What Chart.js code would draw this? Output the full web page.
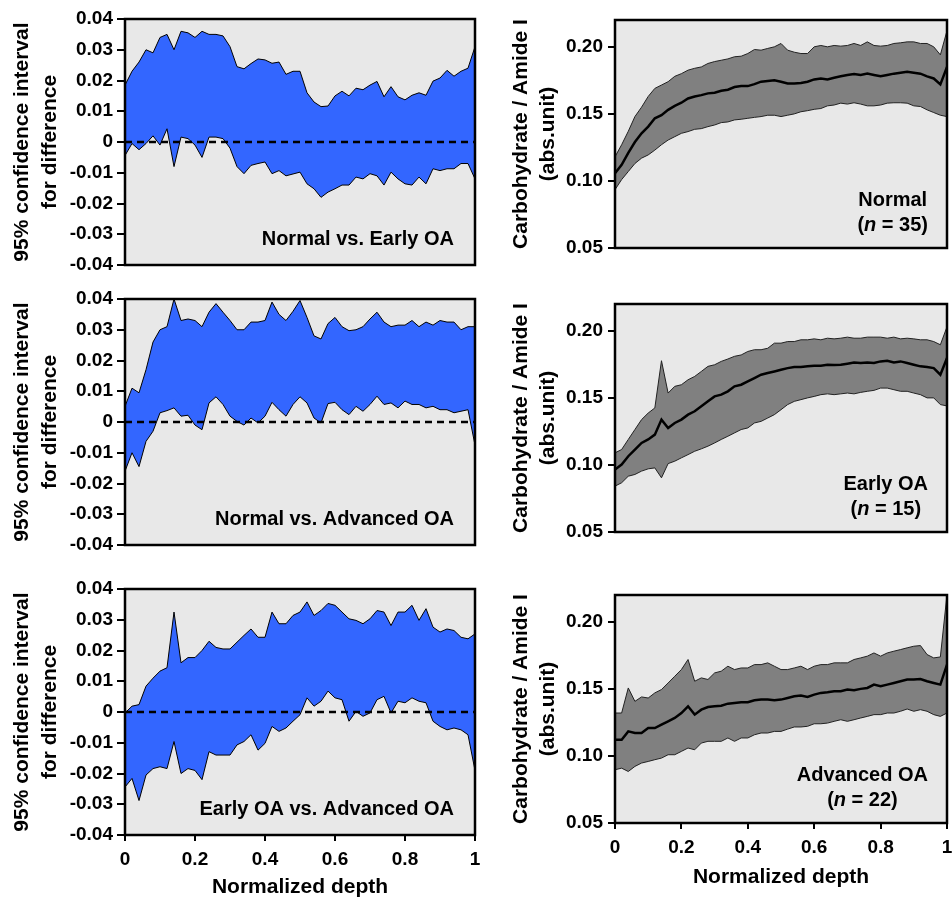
<!DOCTYPE html>
<html>
<head>
<meta charset="utf-8">
<script src="https://cdn.jsdelivr.net/npm/chart.js@4.4.1/dist/chart.umd.min.js"></script>
<style>
  html, body { margin: 0; padding: 0; background: #fff; }
  body { width: 952px; height: 898px; position: relative; overflow: hidden; }
  canvas { position: absolute; }
</style>
</head>
<body>
<canvas id="l1" width="480" height="280" style="left:0;top:0"></canvas>
<canvas id="l2" width="480" height="290" style="left:0;top:280px"></canvas>
<canvas id="l3" width="480" height="328" style="left:0;top:570px"></canvas>
<canvas id="r1" width="472" height="280" style="left:480px;top:0"></canvas>
<canvas id="r2" width="472" height="290" style="left:480px;top:280px"></canvas>
<canvas id="r3" width="472" height="328" style="left:480px;top:570px"></canvas>
<script>
// normalized depth, shared by every series
const depth = [0, 0.02, 0.04, 0.06, 0.08, 0.1, 0.12, 0.14, 0.16, 0.18, 0.2,
  0.22, 0.24, 0.26, 0.28, 0.3, 0.32, 0.34, 0.36, 0.38, 0.4,
  0.42, 0.44, 0.46, 0.48, 0.5, 0.52, 0.54, 0.56, 0.58, 0.6,
  0.62, 0.64, 0.66, 0.68, 0.7, 0.72, 0.74, 0.76, 0.78, 0.8,
  0.82, 0.84, 0.86, 0.88, 0.9, 0.92, 0.94, 0.96, 0.98, 1];

const depthTicks = [0, 0.2, 0.4, 0.6, 0.8, 1];
const diffTicks = [-0.04, -0.03, -0.02, -0.01, 0, 0.01, 0.02, 0.03, 0.04];
const ratioTicks = [0.05, 0.1, 0.15, 0.2];
const zeroX = [0, 1];
const zeroY = [0, 0];

// 95% CI for difference: Normal vs. Early OA
const nveUpper = [0.0185, 0.023, 0.026, 0.030, 0.029, 0.034, 0.035, 0.030, 0.036, 0.0355, 0.034,
  0.036, 0.035, 0.035, 0.0345, 0.031, 0.0245, 0.0238, 0.0255, 0.027, 0.0267,
  0.0256, 0.026, 0.022, 0.023, 0.023, 0.016, 0.013, 0.0115, 0.0117, 0.015,
  0.0165, 0.015, 0.0175, 0.017, 0.0185, 0.0197, 0.0147, 0.018, 0.0147, 0.0137,
  0.0152, 0.016, 0.0152, 0.0198, 0.0208, 0.0233, 0.0214, 0.023, 0.024, 0.031];
const nveLower = [-0.0044, -0.0005, -0.0025, -0.0005, 0.002, -0.001, 0.0043, -0.008, 0.0016, 0.0011, -0.001,
  -0.005, 0.0016, 0.0016, 0.0011, -0.002, -0.008, -0.0103, -0.0076, -0.007, -0.0065,
  -0.0103, -0.0093, -0.011, -0.0104, -0.0098, -0.0136, -0.0152, -0.018, -0.0163, -0.0152,
  -0.014, -0.014, -0.0114, -0.012, -0.0103, -0.011, -0.014, -0.0098, -0.012, -0.0136,
  -0.014, -0.0114, -0.0136, -0.0087, -0.0093, -0.0087, -0.0087, -0.007, -0.007, -0.012];

// Normal vs. Advanced OA
const nvaUpper = [0.0051, 0.011, 0.0095, 0.017, 0.026, 0.030, 0.031, 0.040, 0.033, 0.0335, 0.033,
  0.031, 0.0357, 0.0385, 0.0357, 0.033, 0.030, 0.030, 0.0325, 0.0325, 0.033,
  0.039, 0.035, 0.033, 0.036, 0.0395, 0.034, 0.028, 0.027, 0.032, 0.034,
  0.031, 0.0297, 0.030, 0.031, 0.0335, 0.0357, 0.0325, 0.031, 0.0315, 0.0315,
  0.033, 0.031, 0.0325, 0.0315, 0.033, 0.0325, 0.0325, 0.030, 0.031, 0.031];
const nvaLower = [-0.016, -0.010, -0.0145, -0.0063, -0.003, 0.003, 0.0037, 0.0046, 0.0019, 0.0022, -0.001,
  -0.0025, 0.0062, 0.0082, 0.0057, 0.0019, 0.0002, -0.001, 0.0013, -0.0003, 0.0019,
  0.0064, 0.004, 0.0019, 0.0057, 0.0082, 0.0062, 0.0013, -0.0003, 0.006, 0.0064,
  0.004, 0.0024, 0.0051, 0.0035, 0.0057, 0.0084, 0.0057, 0.0062, 0.0046, 0.0068,
  0.0057, 0.0057, 0.0046, 0.0051, 0.004, 0.004, 0.003, 0.0035, 0.004, -0.0075];

// Early OA vs. Advanced OA
const evaUpper = [-0.0003, 0.0019, 0.0024, 0.0084, 0.011, 0.0133, 0.0144, 0.0325, 0.016, 0.0177, 0.0177,
  0.020, 0.023, 0.021, 0.0205, 0.0205, 0.0227, 0.0249, 0.027, 0.0243, 0.0243,
  0.0325, 0.0287, 0.0287, 0.0314, 0.0325, 0.0358, 0.0314, 0.033, 0.0353, 0.0347,
  0.0325, 0.0303, 0.0298, 0.0287, 0.0303, 0.033, 0.0325, 0.0281, 0.0325, 0.0325,
  0.0347, 0.0298, 0.0336, 0.0276, 0.026, 0.027, 0.0265, 0.0243, 0.0238, 0.0254];
const evaLower = [-0.0244, -0.0216, -0.0288, -0.0205, -0.0184, -0.0178, -0.0184, -0.0096, -0.020, -0.0184, -0.019,
  -0.022, -0.0129, -0.014, -0.014, -0.014, -0.0107, -0.0096, -0.0074, -0.0124, -0.0102,
  -0.0047, -0.0063, -0.0052, -0.003, -0.0009, 0.0046, 0.0019, 0.0035, 0.0068, 0.0046,
  0.004, -0.003, 0.0002, -0.0014, -0.0003, 0.004, 0.0051, -0.0003, 0.0035, 0.003,
  0.0046, 0.0035, 0.003, -0.003, -0.0047, -0.0058, -0.0052, -0.0058, -0.0074, -0.019];

// Carbohydrate / Amide I: Normal (n = 35)
const normUpper = [0.118, 0.127, 0.137, 0.148, 0.155, 0.163, 0.169, 0.1715, 0.174, 0.178, 0.180,
  0.1826, 0.184, 0.185, 0.1876, 0.189, 0.190, 0.191, 0.1926, 0.193, 0.195,
  0.198, 0.1975, 0.1988, 0.200, 0.2025, 0.1975, 0.196, 0.195, 0.195, 0.200,
  0.201, 0.200, 0.201, 0.2005, 0.201, 0.2025, 0.201, 0.2037, 0.201, 0.2005,
  0.201, 0.2025, 0.203, 0.2037, 0.2037, 0.2025, 0.2025, 0.200, 0.194, 0.212];
const normMean = [0.1057, 0.112, 0.121, 0.129, 0.1355, 0.1405, 0.1467, 0.149, 0.153, 0.156, 0.1583,
  0.1615, 0.163, 0.164, 0.1653, 0.1658, 0.1673, 0.168, 0.170, 0.1707, 0.1707,
  0.1722, 0.174, 0.1745, 0.175, 0.174, 0.1727, 0.1727, 0.173, 0.174, 0.1757,
  0.1764, 0.1757, 0.177, 0.178, 0.179, 0.1797, 0.179, 0.180, 0.179, 0.178,
  0.179, 0.180, 0.1807, 0.1814, 0.1807, 0.180, 0.178, 0.1764, 0.172, 0.185];
const normLower = [0.0935, 0.101, 0.107, 0.113, 0.117, 0.1194, 0.123, 0.127, 0.1305, 0.133, 0.1355,
  0.1368, 0.1385, 0.139, 0.1405, 0.1417, 0.1435, 0.144, 0.1455, 0.146, 0.1467,
  0.1474, 0.148, 0.149, 0.149, 0.148, 0.149, 0.150, 0.1516, 0.1524, 0.1534,
  0.154, 0.156, 0.1566, 0.158, 0.1573, 0.1583, 0.1573, 0.156, 0.156, 0.1566,
  0.158, 0.1583, 0.1583, 0.158, 0.156, 0.1555, 0.153, 0.151, 0.149, 0.148];

// Early OA (n = 15)
const earlyUpper = [0.109, 0.1115, 0.119, 0.1264, 0.1338, 0.1387, 0.1425, 0.1777, 0.1536, 0.1586, 0.1598,
  0.1635, 0.166, 0.1697, 0.1735, 0.1747, 0.1772, 0.179, 0.181, 0.182, 0.1846,
  0.1859, 0.1859, 0.187, 0.1908, 0.1908, 0.192, 0.192, 0.1933, 0.1933, 0.194,
  0.1933, 0.1945, 0.194, 0.1945, 0.1953, 0.1945, 0.1945, 0.1953, 0.1953, 0.1953,
  0.1945, 0.1953, 0.194, 0.1945, 0.194, 0.1933, 0.1933, 0.192, 0.1896, 0.203];
const earlyMean = [0.0966, 0.1003, 0.1065, 0.1115, 0.1164, 0.119, 0.1226, 0.1338, 0.1276, 0.1313, 0.1338,
  0.1375, 0.14, 0.1437, 0.1474, 0.1511, 0.1524, 0.1549, 0.1586, 0.1598, 0.1623,
  0.1648, 0.1673, 0.1685, 0.1697, 0.171, 0.1722, 0.173, 0.173, 0.1735, 0.174,
  0.174, 0.1747, 0.1745, 0.1747, 0.1755, 0.1764, 0.176, 0.1764, 0.176, 0.1772,
  0.1777, 0.1764, 0.1772, 0.176, 0.1747, 0.1735, 0.173, 0.1722, 0.1673, 0.1797];
const earlyLower = [0.0842, 0.0867, 0.0916, 0.0929, 0.0954, 0.0971, 0.0978, 0.0904, 0.101, 0.1028, 0.1053,
  0.1077, 0.1102, 0.112, 0.114, 0.1164, 0.119, 0.1214, 0.1239, 0.1264, 0.1276,
  0.1313, 0.1325, 0.135, 0.1375, 0.1412, 0.145, 0.1474, 0.1487, 0.15, 0.1511,
  0.1524, 0.153, 0.1524, 0.153, 0.1536, 0.153, 0.1541, 0.1549, 0.1556, 0.1573,
  0.1573, 0.1561, 0.1549, 0.1549, 0.1536, 0.1524, 0.15, 0.15, 0.145, 0.144];

// Advanced OA (n = 22)
const advUpper = [0.132, 0.132, 0.1507, 0.1407, 0.144, 0.1432, 0.147, 0.1495, 0.1544, 0.1594, 0.1644,
  0.1719, 0.1557, 0.1582, 0.157, 0.1619, 0.1632, 0.1669, 0.1644, 0.1656, 0.1656,
  0.1681, 0.1681, 0.1694, 0.1669, 0.1644, 0.1644, 0.1656, 0.1669, 0.1644, 0.1669,
  0.1681, 0.1681, 0.1694, 0.1694, 0.1694, 0.1719, 0.1731, 0.1744, 0.1768, 0.1744,
  0.1768, 0.1781, 0.1793, 0.1806, 0.1818, 0.1823, 0.1756, 0.1731, 0.1738, 0.2204];
const advMean = [0.1121, 0.1121, 0.1183, 0.1171, 0.1171, 0.1208, 0.1208, 0.1233, 0.1258, 0.1283, 0.132,
  0.137, 0.1308, 0.1345, 0.1365, 0.137, 0.1375, 0.139, 0.1395, 0.14, 0.14,
  0.1415, 0.142, 0.142, 0.1415, 0.142, 0.1432, 0.1445, 0.145, 0.144, 0.1457,
  0.147, 0.1475, 0.1482, 0.1482, 0.1495, 0.149, 0.15, 0.1507, 0.1532, 0.152,
  0.1532, 0.1544, 0.1557, 0.157, 0.157, 0.1574, 0.1557, 0.1544, 0.1532, 0.1681];
const advLower = [0.0897, 0.0909, 0.0884, 0.0922, 0.0947, 0.0959, 0.0972, 0.0984, 0.1009, 0.1009, 0.1034,
  0.1059, 0.1046, 0.1096, 0.1109, 0.1109, 0.1109, 0.1134, 0.1109, 0.1134, 0.1134,
  0.1158, 0.1171, 0.1171, 0.1183, 0.1183, 0.12, 0.1216, 0.1216, 0.1221, 0.124,
  0.124, 0.1245, 0.1258, 0.127, 0.1258, 0.127, 0.1283, 0.1295, 0.1308, 0.1308,
  0.132, 0.132, 0.1333, 0.135, 0.1333, 0.1345, 0.1333, 0.1308, 0.1295, 0.132];

const FONT = "'Liberation Sans', Arial, Helvetica, sans-serif";
const tickFont = { family: FONT, size: 19, weight: 'bold' };
const BLUE = '#3366ff';
const GREY = '#808080';
const PLOT_BG = '#e8e8e8';

const pts = (xs, ys) => xs.map((x, i) => ({ x: x, y: ys[i] }));

// light grey plot box with a black frame
const framePlugin = {
    id: 'frame',
    beforeDraw(chart) {
        const { ctx, chartArea: a } = chart;
        ctx.save();
        ctx.fillStyle = PLOT_BG;
        ctx.fillRect(a.left, a.top, a.width, a.height);
        ctx.restore();
    },
    afterDatasetsDraw(chart) {
        const { ctx, chartArea: a } = chart;
        ctx.save();
        ctx.strokeStyle = '#000';
        ctx.lineWidth = 2.5;
        ctx.strokeRect(a.left, a.top, a.width, a.height);
        ctx.restore();
    }
};

function xScale(show, height, titlePad) {
    return {
        type: 'linear', min: 0, max: 1, display: show,
        afterBuildTicks: s => { s.ticks = depthTicks.map(v => ({ value: v })); },
        afterFit: s => {
            if (show) s.height = height;
            s.paddingLeft = 0;
            s.paddingRight = 0;
        },
        grid: { drawOnChartArea: false, tickLength: 6, color: '#000', lineWidth: 2 },
        border: { display: false },
        ticks: { font: tickFont, color: '#000', padding: 7, maxRotation: 0, autoSkip: false,
            callback: v => String(v) },
        title: { display: true, text: 'Normalized depth', color: '#000',
            font: { family: FONT, size: 21, weight: 'bold', lineHeight: 1 },
            padding: { top: 0, bottom: titlePad } }
    };
}

function yScale(min, max, ticks, fmt, width, tickLen, pad, title, lineH, titlePad) {
    return {
        type: 'linear', min: min, max: max,
        afterBuildTicks: s => { s.ticks = ticks.map(v => ({ value: v })); },
        afterFit: s => {
            s.width = width;
            s.paddingTop = 0;
            s.paddingBottom = 0;
        },
        grid: { drawOnChartArea: false, tickLength: tickLen, color: '#000', lineWidth: 2 },
        border: { display: false },
        ticks: { font: tickFont, color: '#000', padding: pad, autoSkip: false, callback: fmt },
        title: { display: true, text: title, color: '#000',
            font: { family: FONT, size: 21, weight: 'bold', lineHeight: lineH },
            padding: { top: titlePad, bottom: 0 } }
    };
}

function ciPanel(id, upper, lower, label, padding, showX, xHeight) {
    const labelPlugin = {
        id: 'ciLabel',
        afterDraw(chart) {
            const { ctx, chartArea: a } = chart;
            ctx.save();
            ctx.font = 'bold 20px ' + FONT;
            ctx.fillStyle = '#000';
            ctx.textAlign = 'right';
            ctx.textBaseline = 'middle';
            ctx.fillText(label, a.right - 21, a.bottom - 26);
            ctx.restore();
        }
    };
    return new Chart(document.getElementById(id), {
        type: 'line',
        data: {
            datasets: [
                { data: pts(depth, upper), borderColor: '#000', borderWidth: 1,
                  backgroundColor: BLUE, fill: '+1', pointRadius: 0, tension: 0 },
                { data: pts(depth, lower), borderColor: '#000', borderWidth: 1,
                  fill: false, pointRadius: 0, tension: 0 },
                { data: pts(zeroX, zeroY), borderColor: '#000', borderWidth: 2.5,
                  borderDash: [7, 5], fill: false, pointRadius: 0, order: -1 }
            ]
        },
        options: {
            responsive: false, animation: false,
            layout: { padding: padding },
            plugins: { legend: { display: false }, tooltip: { enabled: false },
                       filler: { drawTime: 'beforeDatasetsDraw' } },
            scales: {
                x: xScale(showX, xHeight, 0.5),
                y: yScale(-0.04, 0.04, diffTicks, v => (v === 0 ? '0' : v.toFixed(2)),
                    125, 8, 4, ['95% confidence interval', 'for difference'], 28 / 21, 8)
            }
        },
        plugins: [framePlugin, labelPlugin]
    });
}

function ratioPanel(id, upper, mean, lower, group, n, padding, showX, xHeight) {
    const labelPlugin = {
        id: 'groupLabel',
        afterDraw(chart) {
            const { ctx, chartArea: a } = chart;
            const bold = 'bold 20px ' + FONT;
            const italic = 'italic bold 20px ' + FONT;
            ctx.save();
            ctx.fillStyle = '#000';
            ctx.textBaseline = 'middle';
            ctx.font = bold;
            const w1 = ctx.measureText(group).width;
            const partsTxt = ['(', 'n', ' = ' + n + ')'];
            const partsFont = [bold, italic, bold];
            const widths = partsTxt.map((t, i) => { ctx.font = partsFont[i]; return ctx.measureText(t).width; });
            const w2 = widths.reduce((s, w) => s + w, 0);
            const cx = a.right - 19 - Math.max(w1, w2) / 2;
            ctx.font = bold;
            ctx.textAlign = 'center';
            ctx.fillText(group, cx, a.bottom - 48);
            ctx.textAlign = 'left';
            let x = cx - w2 / 2;
            partsTxt.forEach((t, i) => {
                ctx.font = partsFont[i];
                ctx.fillText(t, x, a.bottom - 23);
                x += widths[i];
            });
            ctx.restore();
        }
    };
    return new Chart(document.getElementById(id), {
        type: 'line',
        data: {
            datasets: [
                { data: pts(depth, upper), borderColor: '#222', borderWidth: 1,
                  backgroundColor: GREY, fill: '+1', pointRadius: 0, tension: 0 },
                { data: pts(depth, lower), borderColor: '#222', borderWidth: 1,
                  fill: false, pointRadius: 0, tension: 0 },
                { data: pts(depth, mean), borderColor: '#000', borderWidth: 2.5,
                  fill: false, pointRadius: 0, tension: 0, order: -1 }
            ]
        },
        options: {
            responsive: false, animation: false,
            layout: { padding: padding },
            plugins: { legend: { display: false }, tooltip: { enabled: false },
                       filler: { drawTime: 'beforeDatasetsDraw' } },
            scales: {
                x: xScale(showX, xHeight, 10.5),
                y: yScale(0.05, 0.22, ratioTicks, v => v.toFixed(2),
                    135, 7, 5, ['Carbohydrate / Amide I', '(abs.unit)'], 27 / 21, 27.5)
            }
        },
        plugins: [framePlugin, labelPlugin]
    });
}

ciPanel('l1', nveUpper, nveLower, 'Normal vs. Early OA', { top: 19, bottom: 15, left: 0, right: 5 }, false, 0);
ciPanel('l2', nvaUpper, nvaLower, 'Normal vs. Advanced OA', { top: 19, bottom: 25, left: 0, right: 5 }, false, 0);
ciPanel('l3', evaUpper, evaLower, 'Early OA vs. Advanced OA', { top: 19, bottom: 0, left: 0, right: 5 }, true, 63);

ratioPanel('r1', normUpper, normMean, normLower, 'Normal', 35, { top: 20, bottom: 32, left: 0, right: 5 }, false, 0);
ratioPanel('r2', earlyUpper, earlyMean, earlyLower, 'Early OA', 15, { top: 24, bottom: 38, left: 0, right: 5 }, false, 0);
ratioPanel('r3', advUpper, advMean, advLower, 'Advanced OA', 22, { top: 25, bottom: 0, left: 0, right: 5 }, true, 75);
</script>
</body>
</html>
